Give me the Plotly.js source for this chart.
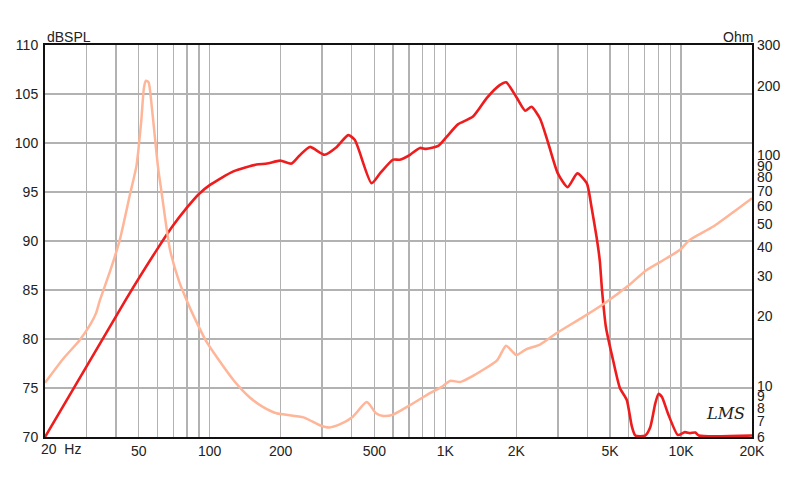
<!DOCTYPE html>
<html>
<head>
<meta charset="utf-8">
<script src="https://cdn.plot.ly/plotly-3.0.1.min.js"></script>
<style>html,body{margin:0;padding:0;background:#fff;}#chart{width:800px;height:484px;}</style>
</head>
<body>
<div id="chart"></div>
<script>
// SPL response (dB SPL, left axis)
const splFreq = [20, 44, 60, 70, 80, 90, 100, 126, 158, 175, 199, 222, 240, 266, 307, 346, 387, 413, 486, 528, 600, 640, 708, 780, 828, 932, 1010, 1130, 1310, 1500, 1700, 1810, 2000, 2180, 2320, 2520, 2730, 3000, 3300, 3630, 3980, 4160, 4380, 4520, 4620, 4800, 5140, 5500, 5880, 6180, 6400, 7040, 7400, 7770, 8020, 8290, 8800, 9700, 10380, 10900, 11500, 11900, 20000];
const splDb   = [70, 84, 89.2, 91.6, 93.4, 94.8, 95.7, 97.1, 97.8, 97.9, 98.2, 97.9, 98.7, 99.6, 98.8, 99.6, 100.8, 100.3, 95.9, 96.9, 98.3, 98.3, 98.8, 99.5, 99.4, 99.7, 100.6, 101.9, 102.7, 104.6, 105.9, 106.2, 104.7, 103.3, 103.7, 102.5, 100.0, 96.9, 95.5, 96.9, 95.9, 93.6, 90.4, 88.0, 85.0, 81.2, 77.9, 75.0, 73.8, 71.1, 70.15, 70.15, 71.0, 73.4, 74.4, 74.1, 72.4, 70.2, 70.5, 70.4, 70.45, 70.15, 70.15];

// Impedance (Ohm, right axis)
const impFreq = [20, 23.9, 28.1, 31.1, 32.9, 34.2, 37.9, 41.5, 45.8, 48.9, 51.2, 52.6, 53.6, 55.0, 56.5, 58.5, 60.4, 62.6, 67.8, 74, 79.8, 86, 97, 126, 148, 168, 192, 250, 293, 322, 356, 405, 464, 508, 545, 600, 708, 860, 965, 1046, 1160, 1280, 1656, 1810, 2000, 2200, 2520, 2960, 3850, 4740, 6040, 7120, 8680, 9900, 10860, 13700, 17200, 20000];
const impOhm  = [10.3, 13.1, 15.8, 18.4, 20.6, 23.5, 31.7, 42.8, 67, 90, 140, 196, 210, 207, 170, 120, 88, 68, 39, 28.5, 23.5, 19.8, 15.5, 10.6, 8.9, 8.1, 7.6, 7.3, 6.75, 6.6, 6.8, 7.35, 8.5, 7.6, 7.4, 7.5, 8.25, 9.3, 9.9, 10.5, 10.4, 10.9, 12.9, 14.9, 13.6, 14.4, 15.1, 16.9, 19.9, 22.8, 27.4, 31.7, 35.7, 38.9, 42.8, 49, 58, 65];

// Axis ticks
const xGridVals = [20,30,40,50,60,70,80,90,100,200,300,400,500,600,700,800,900,1000,2000,3000,4000,5000,6000,7000,8000,9000,10000,20000];
const xLabelMap = {50:'50',100:'100',200:'200',500:'500',1000:'1K',2000:'2K',5000:'5K',10000:'10K',20000:'20K'};
const xTickText = xGridVals.map(v => xLabelMap[v] || '');
const yLeftVals = [70,75,80,85,90,95,100,105,110];
const yRightVals = [6,7,8,9,10,20,30,40,50,60,70,80,90,100,200,300];

const font = {family: 'Liberation Sans, Arial, sans-serif', size: 14, color: '#222'};

const traces = [
  {x: impFreq, y: impOhm, yaxis: 'y2', type: 'scatter', mode: 'lines',
   line: {color: '#ffb598', width: 2.5, shape: 'spline', smoothing: 0.6}, hoverinfo: 'skip'},
  {x: splFreq, y: splDb, type: 'scatter', mode: 'lines',
   line: {color: '#ee1c1c', width: 2.6, shape: 'spline', smoothing: 0.6}, hoverinfo: 'skip'}
];

const layout = {
  width: 800, height: 484,
  margin: {l: 45, r: 48, t: 45, b: 47, pad: 0},
  paper_bgcolor: '#fff', plot_bgcolor: '#fff',
  showlegend: false,
  font: font,
  xaxis: {
    type: 'log', range: [Math.log10(20), Math.log10(20000)],
    tickvals: xGridVals, ticktext: xTickText, ticks: '',
    showgrid: true, gridcolor: '#b2b2b2', gridwidth: 1.4,
    showline: true, linecolor: '#111', linewidth: 2, mirror: true,
    zeroline: false, tickfont: font, layer: 'below traces'
  },
  yaxis: {
    range: [70, 110], tickvals: yLeftVals, ticks: '',
    showgrid: true, gridcolor: '#b2b2b2', gridwidth: 1.4,
    showline: true, linecolor: '#111', linewidth: 2, mirror: true,
    zeroline: false, tickfont: font, layer: 'below traces', ticklabelstandoff: 2
  },
  yaxis2: {
    type: 'log', range: [Math.log10(6), Math.log10(300)],
    overlaying: 'y', side: 'right', tickvals: yRightVals, ticktext: yRightVals.map(String),
    ticks: '', showgrid: false, showline: false, zeroline: false, tickfont: font, ticklabelstandoff: 4
  },
  annotations: [
    {text: 'dBSPL', xref: 'paper', yref: 'paper', x: 0, y: 1, xanchor: 'left', yanchor: 'bottom', showarrow: false, font: font, yshift: -2},
    {text: 'Ohm', xref: 'paper', yref: 'paper', x: 1, y: 1, xanchor: 'right', yanchor: 'bottom', showarrow: false, font: font, yshift: -2, xshift: 3},
    {text: '20\u00a0\u00a0Hz', xref: 'paper', yref: 'paper', x: 0, y: 0, xanchor: 'left', yanchor: 'top', showarrow: false, font: font, xshift: -6, yshift: -2},
    {text: '<i>LMS</i>', xref: 'paper', yref: 'paper', x: 0.993, y: 0.03, xanchor: 'right', yanchor: 'bottom', showarrow: false,
     font: {family: 'DejaVu Serif, serif', size: 16, color: '#222'}}
  ]
};

Plotly.newPlot('chart', traces, layout, {staticPlot: true, displayModeBar: false});
</script>
</body>
</html>
